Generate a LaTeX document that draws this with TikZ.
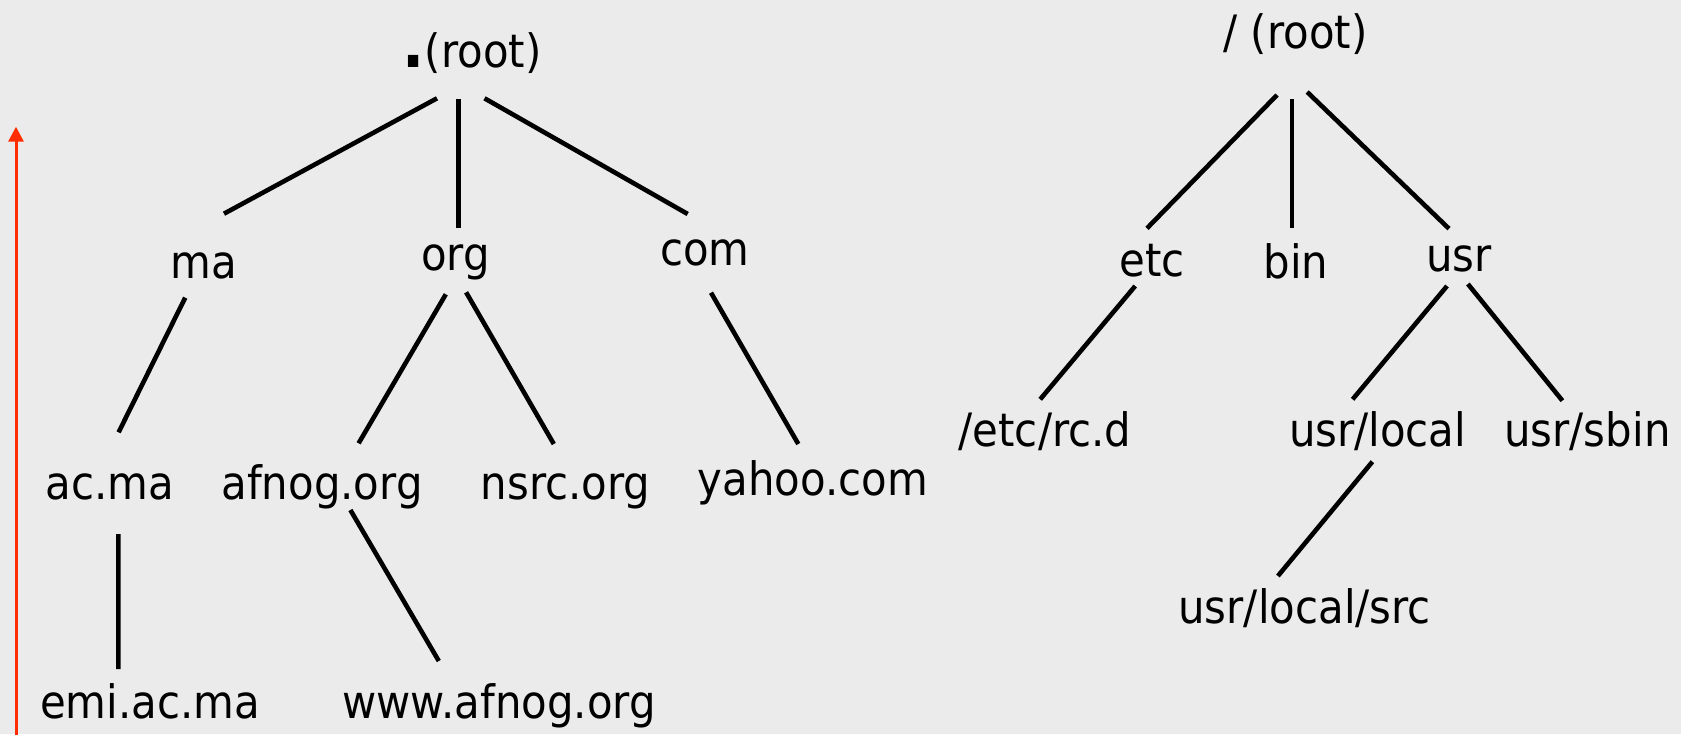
\documentclass[tikz,border=0pt]{standalone}
\usepackage{fontspec}
\setmainfont{DejaVu Sans}[FakeStretch=0.91]
\usetikzlibrary{calc,arrows.meta}
\definecolor{bg}{RGB}{235,235,235}
\definecolor{arrowred}{RGB}{255,45,0}
\begin{document}
\begin{tikzpicture}[x=0.5pt,y=-0.5pt,
  lbl/.style={anchor=base,inner sep=0pt,font=\fontsize{23pt}{27pt}\selectfont},
  edge/.style={line width=2.3pt,draw=black},
  uparrow/.style={line width=1.5pt,draw=arrowred,-{Triangle[length=7.5pt,width=7.5pt]}}]
\fill[bg] (0,0) rectangle (1681,734);
\useasboundingbox (0,0) rectangle (1681,734);

% left tree (DNS)
\node[lbl] (rootL) at (472,67.5) {{\fontsize{32pt}{32pt}\selectfont\bfseries .}(root)};
\node[lbl] (ma) at (204,278) {ma};
\node[lbl] (org) at (455.5,270.5) {org};
\node[lbl] (com) at (705,265) {com};
\node[lbl] (acma) at (110,499) {ac.ma};
\node[lbl] (afnog) at (322,499) {afnog.org};
\node[lbl] (nsrc) at (565.7,499) {nsrc.org};
\node[lbl] (yahoo) at (813,495) {yahoo.com};
\node[lbl] (emi) at (150,718) {emi.ac.ma};
\node[lbl] (www) at (499,718) {www.afnog.org};

% right tree (file system)
\node[lbl] (rootR) at (1295.6,48) {/ (root)};
\node[lbl] (etc) at (1152,276.7) {etc};
\node[lbl] (bin) at (1296,278) {bin};
\node[lbl] (usr) at (1459,271.7) {usr};
\node[lbl] (rcd) at (1045,446.7) {/etc/rc.d};
\node[lbl] (local) at (1377.6,446.7) {usr/local};
\node[lbl] (sbin) at (1587.4,446.7) {usr/sbin};
\node[lbl] (src) at (1304.6,623.3) {usr/local/src};

% left connectors
\draw[edge] ($(rootL.base)+(-35,30.8)$) -- ($(ma.base)+(20,-64.3)$);
\draw[edge] ($(rootL.base)+(-13.5,31.5)$) -- ($(org.base)+(3,-42.5)$);
\draw[edge] ($(rootL.base)+(12.5,30.8)$) -- ($(com.base)+(-17.3,-51)$);
\draw[edge] ($(ma.base)+(-18.8,19.7)$) -- ($(acma.base)+(8.6,-66.7)$);
\draw[edge] ($(acma.base)+(8.3,35)$) -- ($(emi.base)+(-31.7,-49)$);
\draw[edge] ($(org.base)+(-9.7,23.8)$) -- ($(afnog.base)+(36.6,-55.7)$);
\draw[edge] ($(org.base)+(10.6,21.8)$) -- ($(nsrc.base)+(-11.9,-55)$);
\draw[edge] ($(com.base)+(6,27.7)$) -- ($(yahoo.base)+(-14.7,-51)$);
\draw[edge] ($(afnog.base)+(28.4,11)$) -- ($(www.base)+(-60.2,-57)$);

% right connectors
\draw[edge] ($(rootR.base)+(-18.6,47)$) -- ($(etc.base)+(-5,-48.4)$);
\draw[edge] ($(rootR.base)+(-3.6,51)$) -- ($(bin.base)+(-4,-50)$);
\draw[edge] ($(rootR.base)+(11.6,44)$) -- ($(usr.base)+(-10,-43)$);
\draw[edge] ($(etc.base)+(-16.8,9.3)$) -- ($(rcd.base)+(-4.8,-47.4)$);
\draw[edge] ($(usr.base)+(-12,14.3)$) -- ($(local.base)+(-25,-47.4)$);
\draw[edge] ($(usr.base)+(8.9,12.3)$) -- ($(sbin.base)+(-25,-46)$);
\draw[edge] ($(local.base)+(-5.2,15)$) -- ($(src.base)+(-26.7,-47.3)$);

% red arrow
\coordinate (arrTail) at (16,736);
\coordinate (arrTip) at (16,126.7);
\draw[uparrow] (arrTail) -- (arrTip);
\end{tikzpicture}
\end{document}
